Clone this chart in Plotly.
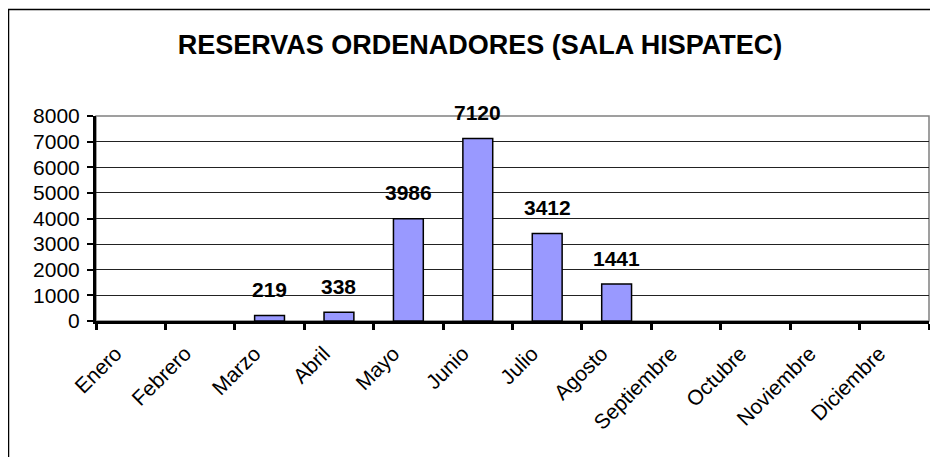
import plotly.graph_objects as go

months = ["Enero", "Febrero", "Marzo", "Abril", "Mayo", "Junio", "Julio",
          "Agosto", "Septiembre", "Octubre", "Noviembre", "Diciembre"]
reservas = [None, None, 219, 338, 3986, 7120, 3412, 1441, None, None, None, None]
y_ticks = [0, 1000, 2000, 3000, 4000, 5000, 6000, 7000, 8000]

# page body has an 8px default margin, so the figure is drawn 8px in
W, H = 930, 449
L, T = 88, 108
pw, ph = 833, 205
R, B = W - L - pw, H - T - ph

FONT = "Liberation Sans, Arial, sans-serif"

fig = go.Figure()
fig.add_trace(go.Bar(
    x=months, y=reservas, width=0.43,
    marker=dict(color="#9999FF", line=dict(color="#000000", width=1.5)),
    hoverinfo="x+y",
))

annotations = []
for m, v in zip(months, reservas):
    if v is None:
        continue
    annotations.append(dict(
        x=m, y=v, xref="x", yref="y", text=f"<b>{v}</b>", showarrow=False,
        yanchor="middle", yshift=26,
        font=dict(family=FONT, size=21, color="#000000"),
    ))

shapes = [
    # plot area border (gray)
    dict(type="rect", xref="paper", yref="paper", x0=0, x1=1, y0=0, y1=1,
         line=dict(color="#808080", width=1.5), layer="below"),
    # outer chart frame
    dict(type="rect", xref="paper", yref="paper",
         x0=(0.5 - L) / pw, x1=(W + 20 - L) / pw,
         y0=(T + ph - (H + 20)) / ph, y1=(T + ph - 1.5) / ph,
         line=dict(color="#000000", width=1.5), layer="below"),
]

fig.update_layout(
    width=W, height=H,
    margin=dict(l=L, r=R, t=T, b=B, pad=0),
    paper_bgcolor="white", plot_bgcolor="white",
    title=dict(text="<b>RESERVAS ORDENADORES (SALA HISPATEC)</b>",
               x=(480 - 8) / W, xanchor="center", y=1 - (45 - 8) / H,
               yanchor="middle",
               font=dict(family=FONT, size=27, color="#000000")),
    showlegend=False,
    annotations=annotations,
    shapes=shapes,
    xaxis=dict(
        type="category", categoryorder="array", categoryarray=months,
        tickson="boundaries", ticks="outside", ticklen=6, tickwidth=3,
        tickcolor="#000000", showline=True, linecolor="#000000", linewidth=3,
        tickangle=-45, showgrid=False, ticklabelshift=-15,
        ticklabelstandoff=9,
        tickfont=dict(family=FONT, size=21, color="#000000"),
    ),
    yaxis=dict(
        range=[0, 8000], tickvals=y_ticks, ticks="outside", ticklen=6,
        tickwidth=2, tickcolor="#000000", showline=True, linecolor="#000000",
        linewidth=3, showgrid=True, gridcolor="#222222", gridwidth=1,
        zeroline=False, ticklabelstandoff=3,
        tickfont=dict(family=FONT, size=21, color="#000000"),
    ),
)

fig.write_html("out.html")
